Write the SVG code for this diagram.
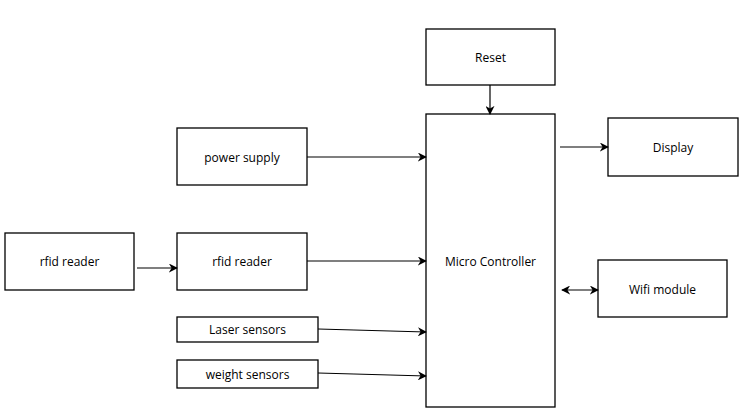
<svg xmlns="http://www.w3.org/2000/svg" width="748" height="411" viewBox="0 0 748 411">
<style>
.box{fill:#fff;stroke:#000;stroke-width:1.3}
.lbl{font-family:"Open Sans","Noto Sans",sans-serif;font-size:12px;fill:#000;text-anchor:middle;dominant-baseline:central}
.ln{stroke:#000;stroke-width:1.2;fill:none}
</style>
<defs>
<marker id="ah" viewBox="0 0 10 10" refX="9" refY="5" markerWidth="9" markerHeight="9" markerUnits="userSpaceOnUse" orient="auto-start-reverse">
<path d="M0,0 L10,5 L0,10 L3,5 Z" fill="#000"/>
</marker>
</defs>
<rect width="748" height="411" fill="#fff"/>
<g id="reset"><rect class="box" x="426" y="29" width="129" height="56"/><text class="lbl" x="490.5" y="57">Reset</text></g>
<g id="micro"><rect class="box" x="426" y="114" width="129" height="293"/><text class="lbl" x="490.5" y="261">Micro Controller</text></g>
<g id="display"><rect class="box" x="608" y="118" width="130" height="58"/><text class="lbl" x="673" y="147">Display</text></g>
<g id="power"><rect class="box" x="177" y="128" width="130" height="57"/><text class="lbl" x="242" y="157">power supply</text></g>
<g id="rfid1"><rect class="box" x="5" y="233" width="129" height="57"/><text class="lbl" x="69.5" y="261">rfid reader</text></g>
<g id="rfid2"><rect class="box" x="177" y="233" width="130" height="57"/><text class="lbl" x="242" y="261">rfid reader</text></g>
<g id="laser"><rect class="box" x="177" y="317" width="141" height="25"/><text class="lbl" x="247.5" y="329.5">Laser sensors</text></g>
<g id="weight"><rect class="box" x="177" y="360" width="141" height="28"/><text class="lbl" x="247.5" y="374">weight sensors</text></g>
<g id="wifi"><rect class="box" x="598" y="260" width="129" height="57"/><text class="lbl" x="662.5" y="289">Wifi module</text></g>
<g id="connectors">
<line class="ln" x1="490" y1="85" x2="490" y2="114" marker-end="url(#ah)"/>
<line class="ln" x1="560" y1="147" x2="608" y2="147" marker-end="url(#ah)"/>
<line class="ln" x1="307" y1="157" x2="426" y2="157" marker-end="url(#ah)"/>
<line class="ln" x1="137" y1="268" x2="177" y2="268" marker-end="url(#ah)"/>
<line class="ln" x1="307" y1="261" x2="426" y2="261" marker-end="url(#ah)"/>
<line class="ln" x1="318" y1="329" x2="426" y2="332" marker-end="url(#ah)"/>
<line class="ln" x1="318" y1="373" x2="426" y2="376" marker-end="url(#ah)"/>
<line class="ln" x1="562" y1="290" x2="598" y2="290" marker-start="url(#ah)" marker-end="url(#ah)"/>
</g>
</svg>
